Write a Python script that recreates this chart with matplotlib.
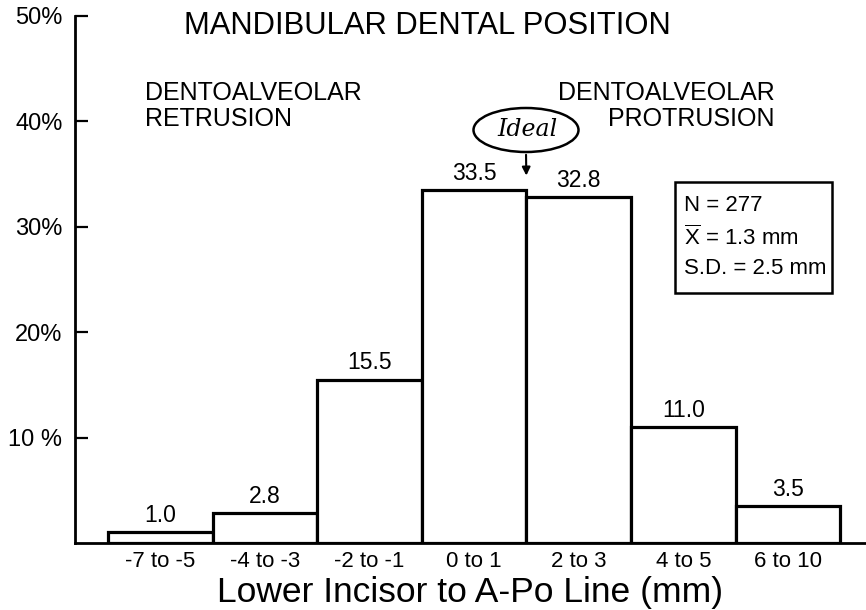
import matplotlib
matplotlib.use("Agg")
import matplotlib.pyplot as plt
from matplotlib.patches import Ellipse, Rectangle

plt.rcParams['font.family'] = ['Liberation Sans', 'DejaVu Sans']
plt.rcParams['mathtext.fontset'] = 'custom'
plt.rcParams['mathtext.rm'] = 'Liberation Sans'

categories = ["-7 to -5", "-4 to -3", "-2 to -1", "0 to 1", "2 to 3", "4 to 5", "6 to 10"]
values = [1.0, 2.8, 15.5, 33.5, 32.8, 11.0, 3.5]
value_labels = ["1.0", "2.8", "15.5", "33.5", "32.8", "11.0", "3.5"]
yticks = [10, 20, 30, 40, 50]
ytick_labels = ["10 %", "20%", "30%", "40%", "50%"]

W, H = 866, 610
fig = plt.figure(figsize=(W / 100, H / 100), dpi=100)
ax = fig.add_axes([75 / W, (H - 543) / H, (866 - 75) / W, (543 - 16) / H])

x = list(range(len(categories)))
ax.bar(x, values, width=1.0, facecolor='white', edgecolor='black', linewidth=2.3, zorder=3)
for xi, v, lab in zip(x, values, value_labels):
    ax.text(xi, v + 0.5, lab, ha='center', va='bottom', fontsize=16.5)

ax.set_xlim(-0.815, 6.747)
ax.set_ylim(0, 50)
for s in ['top', 'right']:
    ax.spines[s].set_visible(False)
for s in ['left', 'bottom']:
    ax.spines[s].set_linewidth(2)
ax.set_yticks(yticks)
ax.set_yticklabels(ytick_labels, fontsize=17)
ax.tick_params(axis='y', direction='in', length=9.5, width=1.6, pad=9)
ax.set_xticks(x)
ax.set_xticklabels(categories, fontsize=16)
ax.tick_params(axis='x', length=0, pad=6)

fig.text(470 / W, 1 - 602 / H, "Lower Incisor to A-Po Line (mm)", ha='center', va='baseline', fontsize=25.5)
fig.text(427 / W, 1 - 26 / H, "MANDIBULAR DENTAL POSITION", ha='center', va='center', fontsize=22.3)
fig.text(145 / W, 1 - 106 / H, "DENTOALVEOLAR\nRETRUSION", ha='left', va='center', fontsize=18, linespacing=1.1)
fig.text(775 / W, 1 - 106 / H, "DENTOALVEOLAR\nPROTRUSION", ha='right', va='center', fontsize=18, linespacing=1.1, multialignment='right')

# Ideal ellipse and arrow
ell = Ellipse((526 / W, 1 - 130 / H), 105 / W, 44 / H, transform=fig.transFigure,
              facecolor='white', edgecolor='black', linewidth=1.8)
fig.add_artist(ell)
fig.text(527 / W, 1 - 130 / H, "Ideal", ha='center', va='center', fontsize=17,
         style='italic', family='DejaVu Serif')
ax.annotate("", xy=(3.5, 34.6), xycoords='data',
            xytext=(526 / W, 1 - 152 / H), textcoords='figure fraction',
            arrowprops=dict(arrowstyle='-|>', color='black', lw=1.5, mutation_scale=12))

# stats box
box = Rectangle((675 / W, 1 - 293 / H), (832 - 675) / W, (293 - 182) / H, transform=fig.transFigure,
                facecolor='white', edgecolor='black', linewidth=1.8)
fig.add_artist(box)
fig.text(684 / W, 1 - 237 / H, "N = 277\n$\\overline{\\mathrm{X}}$ = 1.3 mm\nS.D. = 2.5 mm",
         ha='left', va='center', fontsize=16, linespacing=1.48)

fig.savefig("out.png", dpi=100)
